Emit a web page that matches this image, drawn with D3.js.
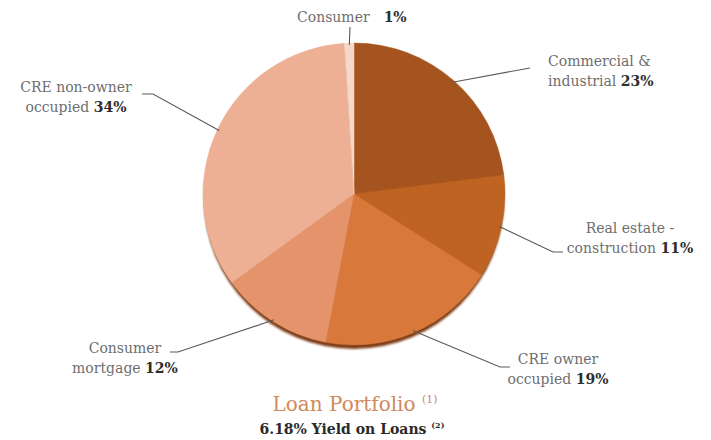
<!DOCTYPE html>
<html>
<head>
<meta charset="utf-8">
<script src="https://cdn.jsdelivr.net/npm/d3@7"></script>
<style>
  html, body { margin: 0; padding: 0; background: #ffffff; }
  svg { display: block; }
</style>
</head>
<body>
<svg id="chart" width="711" height="440"></svg>
<script>
// Loan portfolio mix, clockwise from 12 o'clock
const categories = ["Commercial & industrial", "Real estate - construction", "CRE owner occupied",
                    "Consumer mortgage", "CRE non-owner occupied", "Consumer"];
const shares = [23, 11, 19, 12, 34, 1];
const sliceColors = ["#a5541f", "#bf6323", "#d8783a", "#e5936a", "#edb095", "#f5d8ca"];
// Label text, split the way it wraps on the page
const labelFirst = ["Commercial &", "Real estate -", "CRE owner", "Consumer", "CRE non-owner", "Consumer"];
const labelSecond = ["industrial", "construction", "occupied", "mortgage", "occupied", ""];
const titleText = "Loan Portfolio";
const subtitleText = "6.18% Yield on Loans";

const FONT = "'DejaVu Serif', 'Liberation Serif', 'Noto Serif', serif";
const svg = d3.select("#chart").attr("font-family", FONT);
const cx = 354, cy = 194, r = 151;

// Label layout: text anchor point plus the elbow of each leader line
const layout = [
  { x: 548, y: 66, anchor: "start", elbow: [[530, 68]] },
  { x: 630, y: 233, anchor: "middle", elbow: [[553, 252], [563, 252]] },
  { x: 558, y: 364, anchor: "middle", elbow: [[500, 367], [510, 367]] },
  { x: 125, y: 353, anchor: "middle", elbow: [[178, 352], [170, 352]] },
  { x: 76, y: 92, anchor: "middle", elbow: [[153, 94], [142, 94]] },
  { x: 297, y: 22, anchor: "start", elbow: [[350, 27]] }
];

const pie = d3.pie().sort(null).value(d => d)(shares);
const arc = d3.arc().innerRadius(0).outerRadius(r);
const edge = d3.arc().innerRadius(r - 2).outerRadius(r - 2);

const defs = svg.append("defs");
defs.append("filter").attr("id", "soft")
  .append("feGaussianBlur").attr("stdDeviation", 0.8);

const g = svg.append("g").attr("transform", `translate(${cx},${cy})`);

// Thickness under the pie
g.append("circle")
  .attr("cx", 0).attr("cy", 5).attr("r", r - 1)
  .attr("fill", "#7d3e15")
  .attr("filter", "url(#soft)");

g.selectAll("path.slice")
  .data(pie)
  .join("path")
  .attr("class", "slice")
  .attr("d", arc)
  .attr("fill", (d, i) => sliceColors[i])
  .attr("stroke", (d, i) => sliceColors[i])
  .attr("stroke-width", 0.5);

// Leader lines from each slice edge to its label
const lineGen = d3.line();
pie.forEach((d, i) => {
  const [ex, ey] = edge.centroid(d);
  const pts = [[cx + ex, cy + ey]].concat(layout[i].elbow);
  svg.append("path")
    .attr("d", lineGen(pts))
    .attr("fill", "none")
    .attr("stroke", "#5a5a5a")
    .attr("stroke-width", 1.1);
});

// Labels
const labelColor = "#6e6e6e";
const valueColor = "#2e2e2e";
const fs = 14;
shares.forEach((v, i) => {
  const L = layout[i];
  if (i === 5) {
    const t = svg.append("text").attr("x", L.x).attr("y", L.y)
      .attr("font-size", fs).attr("fill", labelColor);
    t.append("tspan").text(labelFirst[i]);
    t.append("tspan").attr("dx", 14).attr("fill", valueColor).attr("font-weight", "bold").text(v + "%");
    return;
  }
  const t = svg.append("text").attr("text-anchor", L.anchor)
    .attr("font-size", fs).attr("fill", labelColor);
  t.append("tspan").attr("x", L.x).attr("y", L.y).text(labelFirst[i]);
  t.append("tspan").attr("x", L.x).attr("y", L.y + 20).text(labelSecond[i] + " ");
  t.append("tspan").attr("fill", valueColor).attr("font-weight", "bold").text(v + "%");
});

// Title block
const title = svg.append("text").attr("x", 355).attr("y", 411).attr("text-anchor", "middle")
  .attr("fill", "#d08a5c").attr("font-size", 20);
title.append("tspan").text(titleText + " ");
title.append("tspan").attr("font-size", 11).attr("dy", -8).text("(1)");

const sub = svg.append("text").attr("x", 352).attr("y", 434).attr("text-anchor", "middle")
  .attr("fill", "#2a2a2a").attr("font-size", 14).attr("font-weight", "bold");
sub.append("tspan").text(subtitleText + " ");
sub.append("tspan").attr("font-size", 8).attr("dy", -6).text("(2)");
</script>
</body>
</html>
